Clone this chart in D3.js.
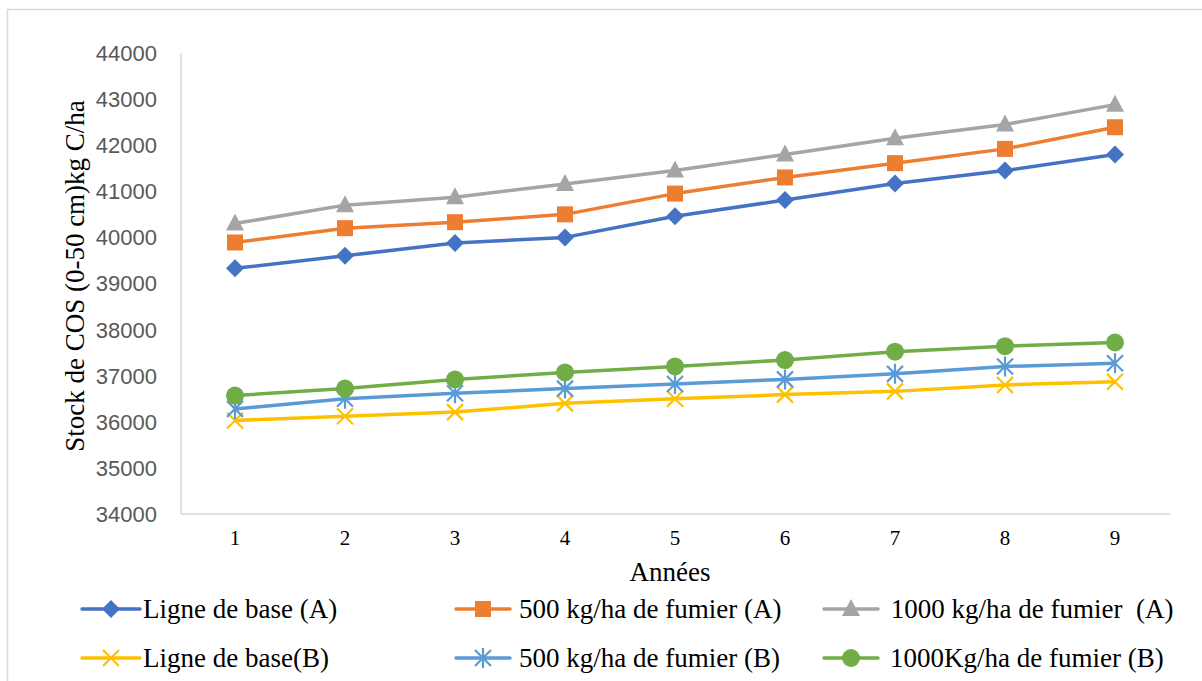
<!DOCTYPE html>
<meta charset="utf-8">
<style>
  body { margin: 0; background: #fff; }
  svg { display: block; }
  .tick-y { font-family: "Liberation Sans", sans-serif; font-size: 22px; fill: #595959; }
  .tick-x { font-family: "Liberation Serif", serif; font-size: 21px; fill: #000; }
  .title { font-family: "Liberation Serif", serif; font-size: 27px; fill: #000; }
  .legend-text { font-family: "Liberation Serif", serif; font-size: 27px; fill: #000; white-space: pre; }
</style>
<div id="chart"></div>
<script src="https://d3js.org/d3.v7.min.js"></script>
<script>
// years on the x axis
var years = [1, 2, 3, 4, 5, 6, 7, 8, 9];
var yTicks = [34000, 35000, 36000, 37000, 38000, 39000, 40000, 41000, 42000, 43000, 44000];

// stock de COS, kg C/ha
var baseA    = [39330, 39600, 39880, 40000, 40460, 40810, 41170, 41450, 41800];
var fum500A  = [39890, 40200, 40330, 40500, 40950, 41300, 41610, 41920, 42390];
var fum1000A = [40300, 40700, 40870, 41160, 41450, 41800, 42150, 42450, 42880];
var baseB    = [36030, 36120, 36210, 36400, 36500, 36590, 36660, 36800, 36870];
var fum500B  = [36280, 36500, 36620, 36720, 36820, 36920, 37040, 37200, 37270];
var fum1000B = [36570, 36720, 36920, 37070, 37200, 37340, 37520, 37640, 37720];

var seriesNames = ["Ligne de base (A)", "500 kg/ha de fumier (A)", " 1000 kg/ha de fumier  (A)",
                   "Ligne de base(B)", "500 kg/ha de fumier (B)", "1000Kg/ha de fumier (B)"];
var seriesValues = [baseA, fum500A, fum1000A, baseB, fum500B, fum1000B];
var seriesColors = ["#4472C4", "#ED7D31", "#A5A5A5", "#FFC000", "#5B9BD5", "#70AD47"];
var seriesMarkers = ["diamond", "square", "triangle", "x", "star", "circle"];

var W = 1202, H = 681;
var svg = d3.select("#chart").append("svg").attr("width", W).attr("height", H);

// outer frame like the excel chart area
svg.append("rect")
    .attr("x", 7.5).attr("y", 9.5)
    .attr("width", 1220).attr("height", 700)
    .attr("fill", "none").attr("stroke", "#d9d9d9").attr("stroke-width", 1.5);

var x = d3.scalePoint().domain(years).range([235, 1115]);
var y = d3.scaleLinear().domain([34000, 44000]).range([514, 53]);

// axes lines
svg.append("line").attr("x1", 181).attr("x2", 181).attr("y1", 53).attr("y2", 514)
    .attr("stroke", "#d9d9d9").attr("stroke-width", 1.5);
svg.append("line").attr("x1", 181).attr("x2", 1170).attr("y1", y(34000)).attr("y2", y(34000))
    .attr("stroke", "#d9d9d9").attr("stroke-width", 1.5);

svg.selectAll(".tick-y").data(yTicks).enter().append("text")
    .attr("class", "tick-y")
    .attr("x", 157)
    .attr("y", function(d) { return y(d); })
    .attr("dy", "0.36em")
    .attr("text-anchor", "end")
    .text(function(d) { return d; });

svg.selectAll(".tick-x").data(years).enter().append("text")
    .attr("class", "tick-x")
    .attr("x", function(d) { return x(d); })
    .attr("y", 545)
    .attr("text-anchor", "middle")
    .text(function(d) { return d; });

svg.append("text").attr("class", "title")
    .attr("x", 670).attr("y", 581)
    .attr("text-anchor", "middle")
    .text("Années");

svg.append("text").attr("class", "title")
    .attr("transform", "translate(84," + 276 + ") rotate(-90)")
    .attr("text-anchor", "middle")
    .text("Stock de COS (0-50 cm)kg C/ha");

function drawMarker(g, type, color) {
  if (type == "diamond") {
    g.append("path").attr("d", "M0,-9L9,0L0,9L-9,0Z").attr("fill", color);
  } else if (type == "square") {
    g.append("rect").attr("x", -8).attr("y", -8).attr("width", 16).attr("height", 16).attr("fill", color);
  } else if (type == "triangle") {
    g.append("path").attr("d", "M0,-10L9,7L-9,7Z").attr("fill", color);
  } else if (type == "circle") {
    g.append("circle").attr("r", 9).attr("fill", color);
  } else if (type == "x") {
    g.append("path").attr("d", "M-8,-8L8,8M-8,8L8,-8")
      .attr("stroke", color).attr("stroke-width", 2.2).attr("fill", "none");
  } else if (type == "star") {
    g.append("path").attr("d", "M-8,-8L8,8M-8,8L8,-8M0,-10L0,10")
      .attr("stroke", color).attr("stroke-width", 2.2).attr("fill", "none");
  }
}

var line = d3.line()
    .x(function(d, i) { return x(years[i]); })
    .y(function(d) { return y(d); });

seriesValues.forEach(function(vals, s) {
  svg.append("path")
      .datum(vals)
      .attr("d", line)
      .attr("fill", "none")
      .attr("stroke", seriesColors[s])
      .attr("stroke-width", 3.5)
      .attr("stroke-linejoin", "round");
  vals.forEach(function(v, i) {
    var g = svg.append("g").attr("transform", "translate(" + x(years[i]) + "," + y(v) + ")");
    drawMarker(g, seriesMarkers[s], seriesColors[s]);
  });
});

// legend, 3 columns x 2 rows
var legendCols = [{ x0: 82, x1: 140, tx: 143 }, { x0: 456, x1: 510, tx: 519 }, { x0: 824, x1: 878, tx: 884 }];
var legendRows = [609, 658];
seriesNames.forEach(function(name, s) {
  var c = legendCols[s % 3], r = legendRows[Math.floor(s / 3)];
  svg.append("line").attr("x1", c.x0).attr("x2", c.x1).attr("y1", r).attr("y2", r)
      .attr("stroke", seriesColors[s]).attr("stroke-width", 3.5).attr("stroke-linecap", "round");
  var g = svg.append("g").attr("transform", "translate(" + ((c.x0 + c.x1) / 2) + "," + r + ")");
  drawMarker(g, seriesMarkers[s], seriesColors[s]);
  svg.append("text").attr("class", "legend-text")
      .attr("x", c.tx + (s == 5 ? 6 : 0)).attr("y", r).attr("dy", "0.33em")
      .text(name);
});
</script>
